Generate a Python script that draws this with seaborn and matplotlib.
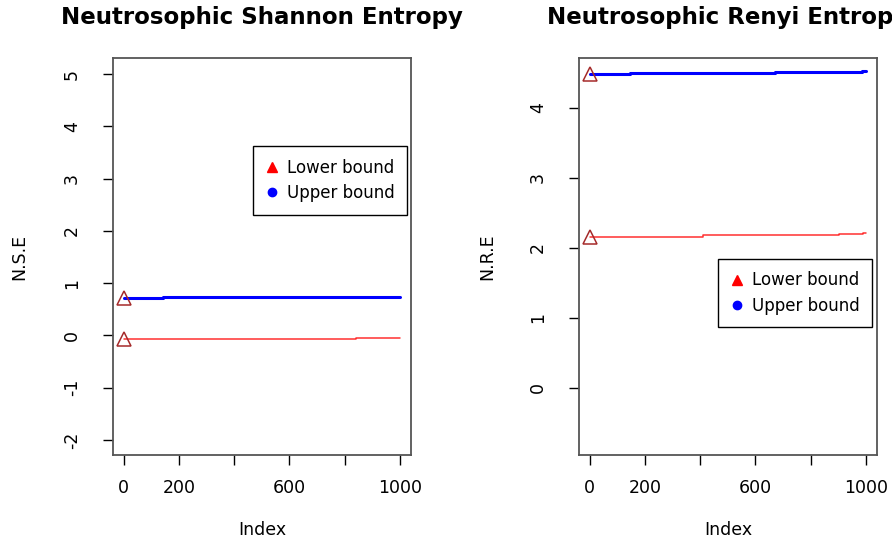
import matplotlib
matplotlib.use("Agg")
import matplotlib.pyplot as plt
from matplotlib.lines import Line2D
import pandas as pd
import seaborn as sns

# step breakpoints (index, value)
nse_lower_x = [1, 840, 1000]
nse_lower_y = [-0.06, -0.05, -0.05]
nse_upper_x = [1, 142, 1000]
nse_upper_y = [0.717, 0.742, 0.742]

nre_lower_x = [1, 411, 902, 990, 1000]
nre_lower_y = [2.157, 2.176, 2.196, 2.207, 2.207]
nre_upper_x = [1, 145, 669, 985, 1000]
nre_upper_y = [4.48, 4.495, 4.51, 4.522, 4.522]

x_ticks = [0, 200, 400, 600, 800, 1000]
x_tick_labels = ["0", "200", "", "600", "", "1000"]

sns.set_style("ticks")
plt.rcParams["font.family"] = ["DejaVu Sans"]
plt.rcParams["text.color"] = "black"
plt.rcParams["axes.labelcolor"] = "black"
plt.rcParams["xtick.color"] = "black"
plt.rcParams["ytick.color"] = "black"

fig = plt.figure(figsize=(8.92, 5.43), dpi=100)
ax1 = fig.add_axes([113 / 892, 1 - 455 / 543, 298 / 892, 397 / 543])
ax2 = fig.add_axes([579 / 892, 1 - 455 / 543, 298 / 892, 397 / 543])


def draw(ax, lx, ly, ux, uy, title, ylab, yticks, ylim, leg_xy, ylab_x):
    low = pd.DataFrame({"Index": lx, "v": ly})
    up = pd.DataFrame({"Index": ux, "v": uy})
    sns.lineplot(data=up, x="Index", y="v", ax=ax, color="blue", lw=2.2,
                 drawstyle="steps-post", estimator=None)
    sns.lineplot(data=low, x="Index", y="v", ax=ax, color="#ff3030", lw=1.1,
                 drawstyle="steps-post", estimator=None)
    for d in (low, up):
        ax.plot(d["Index"].iloc[0], d["v"].iloc[0], marker="^", ms=10,
                mfc="none", mec="#a52a2a", mew=1.1)
    ax.set_xlim(-39, 1040)
    ax.set_ylim(*ylim)
    ax.set_xticks(x_ticks)
    ax.set_xticklabels(x_tick_labels)
    ax.set_yticks(yticks)
    ax.set_yticklabels([str(t) for t in yticks])
    ax.tick_params(axis="both", direction="out", length=7, width=1,
                   color="black", labelsize=12.5, bottom=True, left=True)
    ax.tick_params(axis="x", pad=10)
    ax.tick_params(axis="y", labelrotation=90, pad=16)
    for lab in ax.get_yticklabels():
        lab.set_va("center")
    for s in ax.spines.values():
        s.set_visible(True)
        s.set_color("#555555")
        s.set_linewidth(1.3)
    ax.set_xlabel("Index", fontsize=12.5)
    ax.set_ylabel(ylab, fontsize=12.5)
    ax.xaxis.set_label_coords(0.5, -0.166)
    ax.yaxis.set_label_coords(ylab_x, 0.5)
    ax.text(0.5, 1.103, title, transform=ax.transAxes, ha="center",
            va="center", fontsize=16.5, fontweight="bold", clip_on=False)
    handles = [
        Line2D([], [], ls="none", marker="^", color="red", ms=7),
        Line2D([], [], ls="none", marker="o", color="blue", ms=6),
    ]
    leg = ax.legend(handles, ["Lower bound", "Upper bound"], loc="upper left",
                    bbox_to_anchor=leg_xy, borderaxespad=0, fancybox=False,
                    edgecolor="black", fontsize=12, handlelength=0.8,
                    handletextpad=0.5, labelspacing=0.45, borderpad=0.75,
                    framealpha=1)
    leg.get_frame().set_linewidth(1)


draw(ax1, nse_lower_x, nse_lower_y, nse_upper_x, nse_upper_y,
     "Neutrosophic Shannon Entropy", "N.S.E",
     [-2, -1, 0, 1, 2, 3, 4, 5], (-2.29, 5.31), (0.47, 0.778), -0.285)
draw(ax2, nre_lower_x, nre_lower_y, nre_upper_x, nre_upper_y,
     "Neutrosophic Renyi Entropy", "N.R.E",
     [0, 1, 2, 3, 4], (-0.96, 4.71), (0.466, 0.494), -0.279)

fig.savefig("out.png", dpi=100)
